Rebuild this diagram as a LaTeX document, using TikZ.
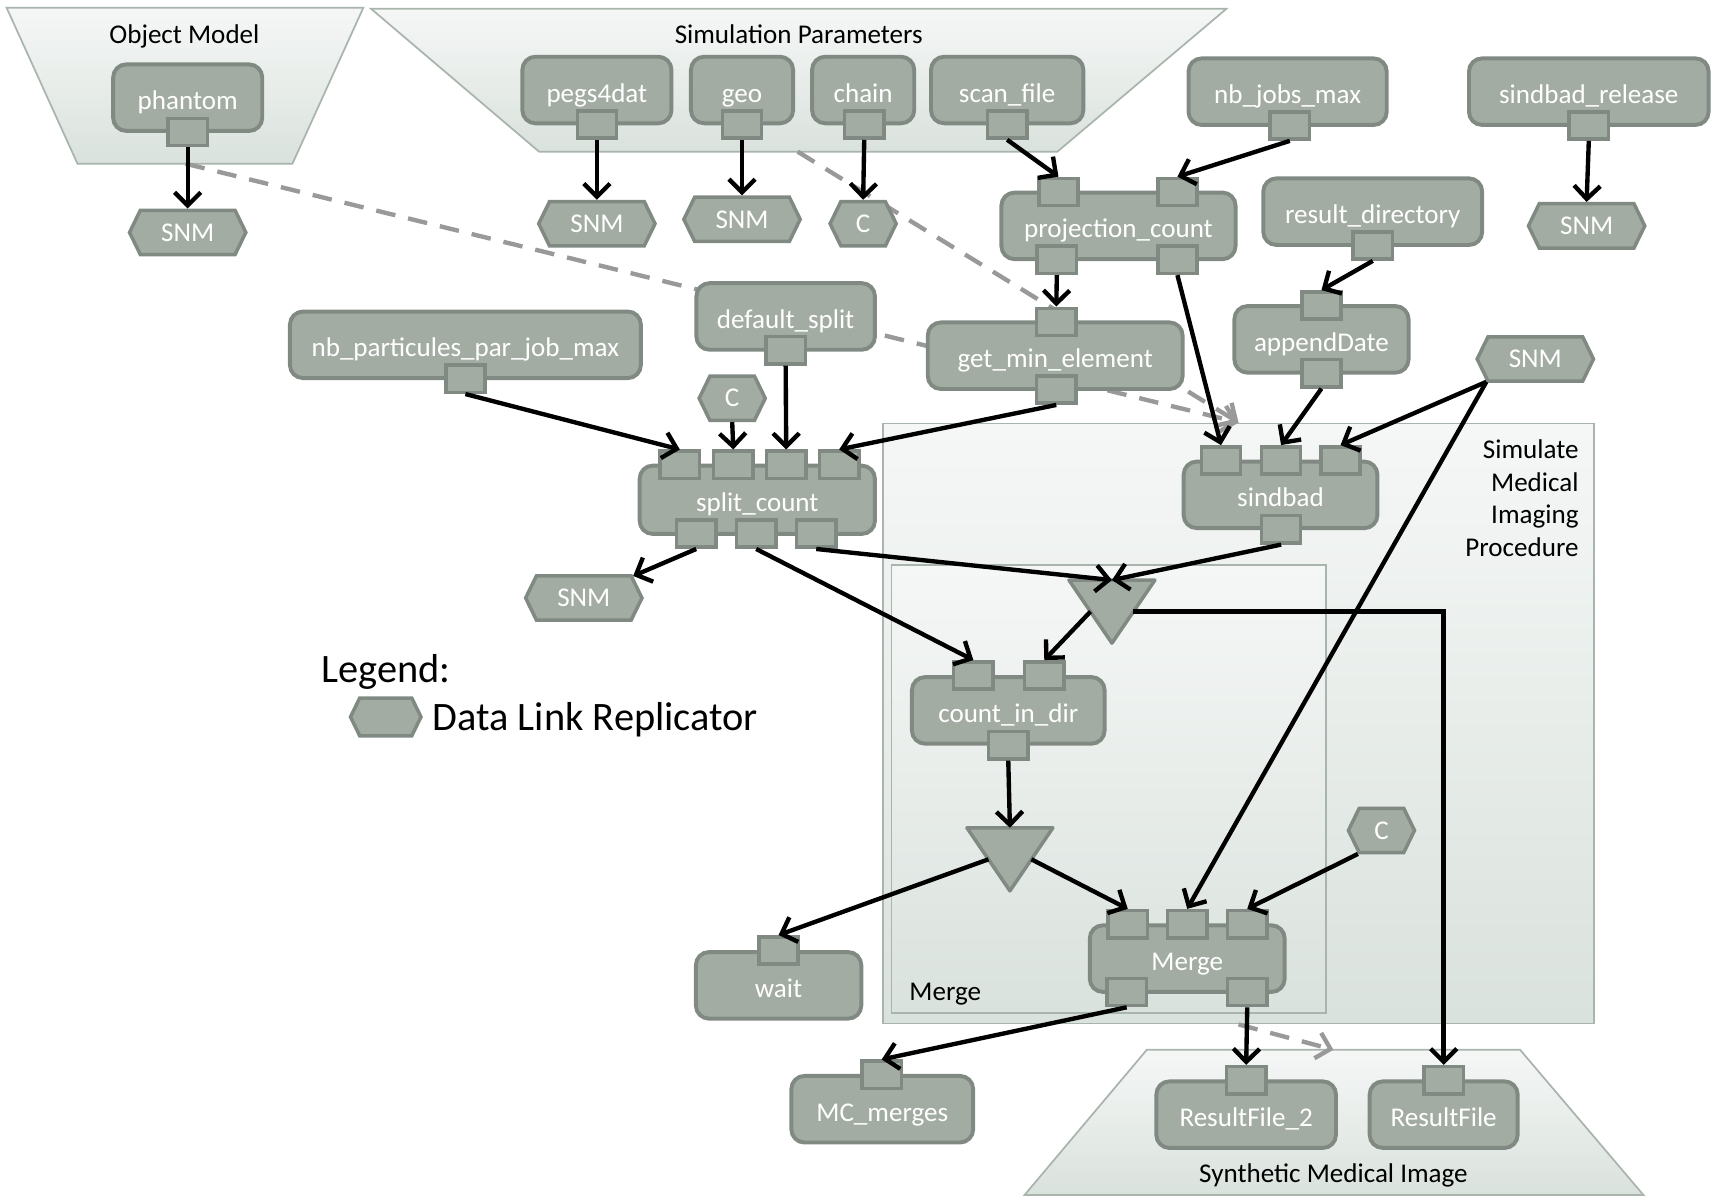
\documentclass[tikz,border=0pt]{standalone}
\usepackage{fontspec}
\setmainfont{Carlito}
\usetikzlibrary{arrows.meta,shapes.symbols,calc}

\definecolor{boxfill}{HTML}{A3ACA2}
\definecolor{boxline}{HTML}{818A82}
\definecolor{grptop}{HTML}{F5F7F6}
\definecolor{grpbot}{HTML}{DAE2DD}
\definecolor{grpline}{HTML}{A9B5AC}
\definecolor{linkgray}{HTML}{999999}

\tikzset{
  proc/.style={draw=boxline, fill=boxfill, line width=1.8pt, rounded corners=6pt,
    minimum height=30.5pt, inner sep=0pt, text height=11pt, text depth=0pt,
    text=white, font=\fontsize{12.4}{15}\selectfont},
  port/.style={draw=boxline, fill=boxfill, line width=1.6pt, minimum width=18pt,
    minimum height=12.5pt, inner sep=0pt},
  repl/.style={signal, signal to=east and west, signal pointer angle=128, draw=boxline,
    fill=boxfill, line width=1.6pt, minimum width=53.3pt, minimum height=20.3pt,
    inner sep=0pt, text=white, font=\fontsize{12.4}{15}\selectfont},
  trinode/.style={rectangle, minimum width=39pt, minimum height=28.5pt, inner sep=0pt},
  tri/.style={draw=boxline, fill=boxfill, line width=1.6pt, line join=round},
  group/.style={draw=grpline, line width=0.8pt, top color=grptop, bottom color=grpbot},
  grplabel/.style={inner sep=0pt, font=\fontsize{12.4}{14.85}\selectfont},
  flow/.style={line width=2pt, -{Straight Barb[length=6pt,width=12pt]}},
  grplink/.style={draw=linkgray, line width=2pt, dash pattern=on 9pt off 6pt,
    -{Straight Barb[length=6pt,width=12pt]}},
}

\begin{document}
\begin{tikzpicture}[x=0.5pt, y=-0.5pt, line cap=butt]
  \useasboundingbox (0,0) rectangle (1568,1097);

  % Gruppi
  \path[group] (6,7) -- (333,7) -- (268,150) -- (71,150) -- cycle;
  \path[group] (340,8) -- (1124,8) -- (969,139) -- (494,139) -- cycle;
  \path[group] (1051,962) -- (1393,962) -- (1506,1095) -- (939,1095) -- cycle;
  \node[group, minimum width=326pt, minimum height=275pt, inner sep=0pt] (simproc) at (1135,663) {};
  \node[group, minimum width=199pt, minimum height=205pt, inner sep=0pt] (mergegrp) at (1016,723) {};
  \coordinate (om-s) at (170,150);
  \coordinate (sp-s) at (731,139);
  \coordinate (syn-n) at (1222,962);

  \node[grplabel, anchor=base] (om-label) at (169,40) {Object Model};
  \node[grplabel, anchor=base] (sp-label) at (732,40) {Simulation Parameters};
  \node[grplabel, anchor=north east, align=right] (proc-label) at (1447,403)
    {Simulate\\Medical\\Imaging\\Procedure};
  \node[grplabel, anchor=base west] (merge-label) at (833,917) {Merge};
  \node[grplabel, anchor=base] (syn-label) at (1222,1084) {Synthetic Medical Image};

  % Legame tra gruppi (tratteggiato)
  \draw[grplink] (om-s) -- (simproc.north);
  \draw[grplink] (sp-s) -- (simproc.north);
  \draw[grplink] (simproc.south) -- (syn-n);

  % Processori
  \node[proc, minimum width=68.3pt] (phantom) at (172,89.5) {phantom};
  \node[proc, minimum width=68.3pt] (pegs) at (547,82.5) {pegs4dat};
  \node[proc, minimum width=46.8pt] (geo) at (680,82.5) {geo};
  \node[proc, minimum width=46.8pt] (chain) at (791,82.5) {chain};
  \node[proc, minimum width=69.8pt] (scan) at (923,82.5) {scan\_file};
  \node[proc, minimum width=90.8pt] (njm) at (1180,84) {nb\_jobs\_max};
  \node[proc, minimum width=109.8pt] (sbr) at (1456,84) {sindbad\_release};
  \node[proc, minimum width=100.3pt] (rd) at (1258,194) {result\_directory};
  \node[proc, minimum width=79.8pt] (ad) at (1211,311) {appendDate};
  \node[proc, minimum width=107.3pt] (pc) at (1025,207) {projection\_count};
  \node[proc, minimum width=116.8pt] (gme) at (967,326) {get\_min\_element};
  \node[proc, minimum width=81.8pt] (ds) at (720,290) {default\_split};
  \node[proc, minimum width=160.8pt] (npj) at (426.5,316) {nb\_particules\_par\_job\_max};
  \node[proc, minimum width=107.8pt, minimum height=31.3pt] (sc) at (694,458) {split\_count};
  \node[proc, minimum width=88.8pt] (sb) at (1173.5,453.5) {sindbad};
  \node[proc, minimum width=88.3pt] (cid) at (924,651) {count\_in\_dir};
  \node[proc, minimum width=89.3pt] (mg) at (1088,878.5) {Merge};
  \node[proc, minimum width=75.8pt] (wait) at (713.5,903) {wait};
  \node[proc, minimum width=83.3pt] (mcm) at (808.5,1016.5) {MC\_merges};
  \node[proc, minimum width=82.3pt] (rf2) at (1142,1021.5) {ResultFile\_2};
  \node[proc, minimum width=67.8pt] (rf) at (1323,1021.5) {ResultFile};

  % Porte
  \node[port] (phantom-o) at (172,121) {};
  \node[port] (pegs-o) at (547,114) {};
  \node[port] (geo-o) at (680,114) {};
  \node[port] (chain-o) at (792,114) {};
  \node[port] (scan-o) at (923,114) {};
  \node[port] (njm-o) at (1182,115) {};
  \node[port] (sbr-o) at (1456,115) {};
  \node[port] (rd-o) at (1258,225) {};
  \node[port] (ad-i) at (1211,280) {};
  \node[port] (ad-o) at (1211,342) {};
  \node[port] (pc-i1) at (970,176) {};
  \node[port] (pc-i2) at (1079,176) {};
  \node[port] (pc-o1) at (968.5,238) {};
  \node[port] (pc-o2) at (1079,238) {};
  \node[port] (gme-i) at (968,295) {};
  \node[port] (gme-o) at (968,357) {};
  \node[port] (ds-o) at (720,321) {};
  \node[port] (npj-o) at (426.5,347) {};
  \node[port] (sc-i1) at (623,426) {};
  \node[port] (sc-i2) at (672,426) {};
  \node[port] (sc-i3) at (720.5,426) {};
  \node[port] (sc-i4) at (769,426) {};
  \node[port] (sc-o1) at (638,489) {};
  \node[port] (sc-o2) at (693,489) {};
  \node[port] (sc-o3) at (748,489) {};
  \node[port] (sb-i1) at (1119,422) {};
  \node[port] (sb-i2) at (1174,422) {};
  \node[port] (sb-i3) at (1228.5,422) {};
  \node[port] (sb-o) at (1174,485) {};
  \node[port] (cid-i1) at (892,619) {};
  \node[port] (cid-i2) at (957,619) {};
  \node[port] (cid-o) at (924,683) {};
  \node[port] (mg-i1) at (1033.5,847) {};
  \node[port] (mg-i2) at (1088,847) {};
  \node[port] (mg-i3) at (1143,847) {};
  \node[port] (mg-o1) at (1032.5,909) {};
  \node[port] (mg-o2) at (1143,909) {};
  \node[port] (wait-i) at (713.5,871) {};
  \node[port] (mcm-i) at (808,985) {};
  \node[port] (rf2-i) at (1142,990) {};
  \node[port] (rf-i) at (1323,990) {};

  % Replicatori
  \node[repl] (snm1) at (172,213) {SNM};
  \node[repl] (snm2) at (547,205) {SNM};
  \node[repl] (snm3) at (680,201) {SNM};
  \node[repl, minimum width=30.3pt] (c1) at (791,205) {C};
  \node[repl] (snm4) at (1454,207) {SNM};
  \node[repl, minimum width=30.3pt] (c2) at (671,365) {C};
  \node[repl] (snm5) at (1407,329) {SNM};
  \node[repl] (snm6) at (535,548) {SNM};
  \node[repl, minimum width=30.3pt] (c3) at (1266,761) {C};

  % Triangoli
  \node[trinode] (tri1) at (1019,560.5) {};
  \node[trinode] (tri2) at (925.5,787.5) {};
  \path[tri] (tri1.north west) -- (tri1.north east) -- (tri1.south) -- cycle;
  \path[tri] (tri2.north west) -- (tri2.north east) -- (tri2.south) -- cycle;
  \coordinate (tri1-w) at ($(tri1.north west)!.5!(tri1.south)$);
  \coordinate (tri1-e) at ($(tri1.north east)!.5!(tri1.south)$);
  \coordinate (tri2-w) at ($(tri2.north west)!.5!(tri2.south)$);
  \coordinate (tri2-e) at ($(tri2.north east)!.5!(tri2.south)$);

  % Collegamenti
  \draw[flow] (phantom-o.south) -- (snm1.north);
  \draw[flow] (pegs-o.south) -- (snm2.north);
  \draw[flow] (geo-o.south) -- (snm3.north);
  \draw[flow] (chain-o.south) -- (c1.north);
  \draw[flow] (scan-o.south) -- (pc-i1.north);
  \draw[flow] (njm-o.south) -- (pc-i2.north);
  \draw[flow] (sbr-o.south) -- (snm4.north);
  \draw[flow] (rd-o.south) -- (ad-i.north);
  \draw[flow] (pc-o1.south) -- (gme-i.north);
  \draw[flow] (pc-o2.south) -- (sb-i1.north);
  \draw[flow] (ad-o.south) -- (sb-i2.north);
  \draw[flow] (snm5.205) -- (sb-i3.north);
  \draw[flow] (snm5.205) -- (mg-i2.north);
  \draw[flow] (gme-o.south) -- (sc-i4.north);
  \draw[flow] (ds-o.south) -- (sc-i3.north);
  \draw[flow] (c2.south) -- (sc-i2.north);
  \draw[flow] (npj-o.south) -- (sc-i1.north);
  \draw[flow] (sc-o1.south) -- (snm6.24);
  \draw[flow] (sc-o2.south) -- (cid-i1.north);
  \draw[flow] (sc-o3.south) -- (tri1.north);
  \draw[flow] (sb-o.south) -- (tri1.north);
  \draw[flow] (tri1-w) -- (cid-i2.north);
  \draw[flow] (tri1-e) -| (rf-i.north);
  \draw[flow] (cid-o.south) -- (tri2.north);
  \draw[flow] (tri2-w) -- (wait-i.north);
  \draw[flow] (tri2-e) -- (mg-i1.north);
  \draw[flow] (c3.225) -- (mg-i3.north);
  \draw[flow] (mg-o1.south) -- (mcm-i.north);
  \draw[flow] (mg-o2.south) -- (rf2-i.north);

  % Legenda
  \node[anchor=base west, inner sep=0pt, font=\fontsize{18.5}{22}\selectfont] (leg-title) at (294,625) {Legend:};
  \node[repl, minimum width=32.3pt, minimum height=17.3pt] (leg-hex) at (353.5,657) {};
  \node[anchor=base west, inner sep=0pt, font=\fontsize{18.5}{22}\selectfont] (leg-text) at (396,669) {Data Link Replicator};
\end{tikzpicture}
\end{document}
